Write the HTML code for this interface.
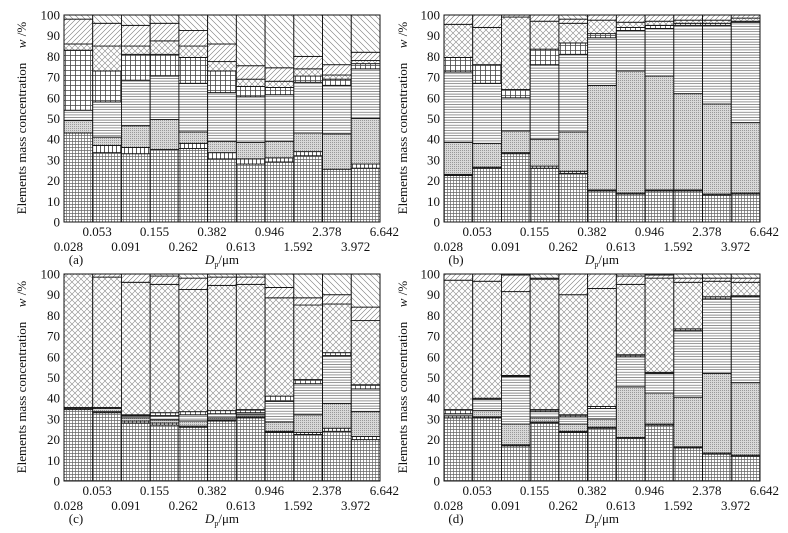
<!DOCTYPE html>
<html><head><meta charset="utf-8"><style>
body{margin:0;background:#fff}
svg text{font-family:"Liberation Serif","Times New Roman",serif;fill:#111}
</style></head><body>
<svg id="chart" width="788" height="528" viewBox="0 0 788 528" xmlns="http://www.w3.org/2000/svg" font-family="Liberation Serif, serif">
<defs>
<pattern id="p-grid" width="3" height="3" patternUnits="userSpaceOnUse"><rect width="3" height="3" fill="#fff"/><path d="M0 0.5H3M0.5 0V3" stroke="#666" stroke-width="0.7"/></pattern>
<pattern id="p-vl" width="4" height="4" patternUnits="userSpaceOnUse"><rect width="4" height="4" fill="#fff"/><path d="M0.5 0V4" stroke="#333" stroke-width="0.8"/></pattern>
<pattern id="p-stip" width="2" height="2" patternUnits="userSpaceOnUse"><rect width="2" height="2" fill="#d8d8d8"/><rect width="1" height="1" fill="#999"/></pattern>
<pattern id="p-hl" width="3" height="2.6" patternUnits="userSpaceOnUse"><rect width="3" height="2.6" fill="#fff"/><path d="M0 0.5H3" stroke="#666" stroke-width="0.7"/></pattern>
<pattern id="p-sq" width="5" height="5" patternUnits="userSpaceOnUse"><rect width="5" height="5" fill="#fff"/><path d="M0 0.5H5M0.5 0V5" stroke="#444" stroke-width="0.8"/></pattern>
<pattern id="p-x" width="6" height="6" patternUnits="userSpaceOnUse"><rect width="6" height="6" fill="#fff"/><path d="M0 0L6 6M6 0L0 6" stroke="#888" stroke-width="0.6"/></pattern>
<pattern id="p-fs" width="5" height="5" patternUnits="userSpaceOnUse"><rect width="5" height="5" fill="#fff"/><path d="M-1 6L6 -1M-1 1L1 -1M4 6L6 4" stroke="#777" stroke-width="0.6"/></pattern>
<pattern id="p-bs" width="6" height="6" patternUnits="userSpaceOnUse"><rect width="6" height="6" fill="#fff"/><path d="M-1 -1L7 7M-1 5L1 7M5 -1L7 1" stroke="#777" stroke-width="0.6"/></pattern>
</defs>
<g id="root"></g>
</svg>
<script>
const sizeLabels = ["0.028","0.053","0.091","0.155","0.262","0.382","0.613","0.946","1.592","2.378","3.972","6.642"];
const yTicks = [0,10,20,30,40,50,60,70,80,90,100];
const layerPatterns = ["p-grid","p-vl","p-stip","p-hl","p-sq","p-x","p-fs","p-bs"];
const topsA = [[43,43,49,54,83,86,98,100],[33.5,37,41,58,73,85,96,100],[33,36,46.5,68.5,81,85,95,100],[35,35,49.5,70.5,81,87.5,96,100],[35.5,38,43.5,67,79.5,85,92.5,100],[30.5,33.5,39,62.5,73,77.5,86,100],[28,30.5,38.5,60.5,65.5,69,75.5,100],[29,31,39,61.5,65,68,74.5,100],[32,34,43,67.5,70.5,74,80,100],[25.5,25.5,42.5,66,69,71,76,100],[26,28,50,74,76.5,78,82,100]];
const topsB = [[22.5,23,38.5,72.5,79.5,95.5,100,100],[26,26.5,38,67,76,94,100,100],[33,33.5,44,60,64,99,100,100],[26,27,40,76,83.5,97,100,100],[23.5,24.5,43.5,81,86.5,96,98,100],[15,15.5,66,89,91,97.5,100,100],[13.5,14,73,92.5,94,96.5,100,100],[15,15.5,70.5,93.5,95,97,100,100],[15,15.5,62,95,96,97.5,100,100],[13,13.5,57,95,96,97.5,100,100],[13.5,14,48,96.5,97,98.5,100,100]];
const topsC = [[34.5,35,35,35,35.5,100,100,100],[33,33.5,35,35,35.5,98.5,100,100],[28,29,30.5,31.5,32,96,100,100],[27,28,29.5,31.5,33,95,99,100],[26,26.5,29,32,33.5,92.5,98,100],[29,29.5,30.5,32.5,34,94.5,98.5,100],[30.5,31,32,33,34.5,95,98.5,100],[23.5,24,28.5,38.5,41,88.5,93.5,100],[22.5,23.5,32,47,49,85,88.5,100],[24,25.5,37.5,60.5,62,85.5,90,100],[20,21.5,33.5,44.5,46.5,77.5,84,100]];
const topsD = [[30.5,31.5,31.5,32.5,34.5,97,100,100],[30.5,31,34,39.5,40,96.5,100,100],[17,17.5,27.5,50.5,51,91.5,99.5,100],[28,28.5,30.5,33.5,34.5,97.5,98,100],[23.5,24,27.5,31,32,90,100,100],[25.5,26,30,35,36,93,100,100],[20.5,21,45.5,60,61,95,99,100],[27,27.5,42.5,52,52.5,98,99.5,100],[16,16.5,40.5,72.5,73.5,96,98,100],[13,13.5,52,88,89,96.5,98,100],[12,12.5,47.5,89,89.5,96,98,100]];
const panels = [
 {id:"a", tops:topsA, l:64, r:380, t:15, b:222, tx:22},
 {id:"b", tops:topsB, l:444, r:760, t:15, b:222, tx:403},
 {id:"c", tops:topsC, l:64, r:380, t:274, b:481, tx:22},
 {id:"d", tops:topsD, l:444, r:760, t:274, b:481, tx:403}
];
const NS="http://www.w3.org/2000/svg";
const root=document.getElementById("root");
function mk(tag,attrs,parent,txt){const e=document.createElementNS(NS,tag);for(const k in attrs)e.setAttribute(k,attrs[k]);if(txt!==undefined)e.textContent=txt;parent.appendChild(e);return e;}
panels.forEach(p=>{
  const g=mk("g",{},root);
  
  
  const n=p.tops.length, bw=(p.r-p.l)/n;
  const y=v=>p.b-(v/100)*(p.b-p.t);
  const x=i=>p.l+i*bw;
  p.tops.forEach((tops,i)=>{
    const bg=mk("g",{},g);
    
    
    let prev=0;
    tops.forEach((tv,k)=>{
      if(tv>prev){
        const r=mk("rect",{x:x(i),y:y(tv),width:bw,height:y(prev)-y(tv),fill:"url(#"+layerPatterns[k]+")",stroke:"#111","stroke-width":0.9},bg);
        
        
      }
      prev=Math.max(prev,tv);
    });
  });
  mk("rect",{x:p.l,y:p.t,width:p.r-p.l,height:p.b-p.t,fill:"none",stroke:"#111","stroke-width":1},g);
  yTicks.forEach(v=>{
    const t=mk("text",{x:p.l-4,y:y(v)+4.5,"text-anchor":"end","font-size":13},g,String(v));
    
    
  });
  sizeLabels.forEach((s,i)=>{
    const row=i%2;
    const t=mk("text",{x:p.l+(i+0.5)*bw-10,y:p.b+(row?14:29),"text-anchor":"middle","font-size":13},g,s);
    
    
  });
  const pl=mk("text",{x:p.l+12,y:p.b+42,"text-anchor":"middle","font-size":13},g,"("+p.id+")");
  
  
  const xt=mk("text",{x:(p.l+p.r)/2,y:p.b+42,"text-anchor":"middle","font-size":13},g);
  
  
  mk("tspan",{"font-style":"italic"},xt,"D");
  mk("tspan",{"font-size":8,dy:3},xt,"p");
  mk("tspan",{dy:-3},xt,"/μm");
  const yt=mk("text",{x:0,y:0,transform:"translate("+(p.tx+4)+","+((p.t+p.b)/2+20)+") rotate(-90)","text-anchor":"middle","font-size":13},g,"Elements mass concentration");
  
  
  const yu=mk("text",{x:0,y:0,transform:"translate("+(p.tx+4)+","+(p.t+20)+") rotate(-90)","text-anchor":"middle","font-size":13},g);
  
  
  mk("tspan",{"font-style":"italic"},yu,"w");
  mk("tspan",{},yu," /%");
});
</script>
</body></html>
